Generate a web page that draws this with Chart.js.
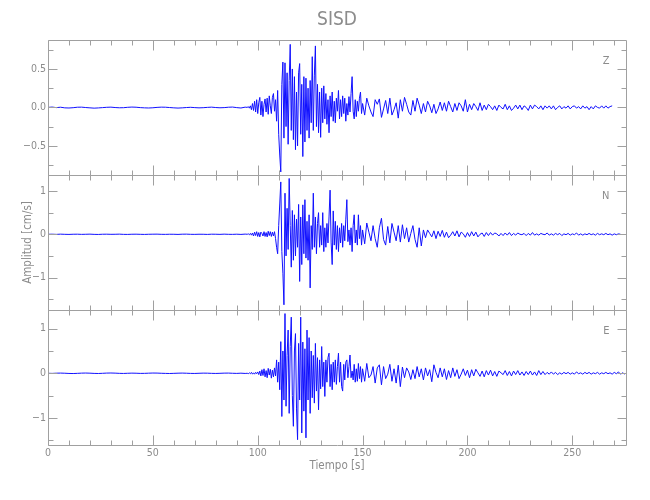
<!DOCTYPE html>
<html lang="es">
<head>
<meta charset="utf-8">
<title>SISD</title>
<script src="https://cdn.jsdelivr.net/npm/chart.js@4.4.1/dist/chart.umd.min.js"></script>
<style>
  html, body { margin: 0; padding: 0; background: #fff; }
  #wrap { width: 650px; height: 500px; }
</style>
</head>
<body>
<div id="wrap"><canvas id="chart" width="650" height="500"></canvas></div>
<script>
// ============================================================
// Data: velocity (cm/s), station SISD
// ============================================================
const channels = ["Z", "N", "E"];

// pre-event noise every 2 s from 0 s, strong motion every 0.5 s from 95 s, coda every 1 s from 150 s
const PRE_START = 0, PRE_STEP = 2;
const MAIN_START = 95, MAIN_STEP = 0.5;
const CODA_START = 150, CODA_STEP = 1;

const zPre = [
  0.000, 0.004, -0.003, 0.002, -0.006, -0.008, -0.004, 0.002, 0.003, -0.002,
  -0.006, -0.010, -0.007, -0.003, 0.001, 0.003, -0.002, -0.005, -0.004, 0.001,
  0.004, 0.002, -0.003, -0.006, -0.008, -0.005, 0.000, 0.003, 0.002, -0.002,
  -0.006, -0.009, -0.006, -0.002, 0.001, -0.003, -0.006, -0.004, 0.000, 0.003,
  -0.002, -0.005, -0.003, 0.002, 0.004, -0.003, -0.008, 0.003,
];
const zMain = [
  0.00, 0.01, -0.01, 0.02, -0.03, 0.05, -0.04, 0.08, -0.06, 0.10,
  -0.08, 0.06, 0.13, -0.10, 0.08, -0.12, 0.04, 0.11, -0.06, 0.12,
  -0.09, 0.15, 0.02, -0.08, 0.13, 0.18, -0.05, 0.10, -0.18, 0.22,
  -0.35, -0.62, -0.84, 0.30, 0.59, -0.40, 0.58, -0.25, 0.45, -0.48,
  0.35, 0.82, -0.30, 0.50, -0.42, 0.40, -0.55, 0.20, -0.50, 0.45,
  0.57, -0.35, 0.30, -0.64, 0.40, -0.45, 0.38, -0.30, 0.25, -0.40,
  0.35, -0.20, 0.66, -0.30, 0.42, 0.80, -0.25, 0.30, -0.33, 0.20,
  -0.39, 0.25, -0.20, 0.28, -0.15, 0.18, -0.22, 0.10, -0.33, 0.15,
  -0.12, 0.20, -0.18, 0.08, -0.20, 0.12, -0.05, 0.22, -0.15, 0.10,
  -0.12, 0.15, -0.08, 0.12, -0.18, 0.05, -0.10, 0.14, -0.06, 0.18,
  0.40, -0.05, -0.15, 0.10, -0.12, 0.08, -0.05, 0.12, 0.20, -0.08,
];
const zCoda = [
  0.05, -0.10, 0.12, 0.02, -0.06, -0.12, 0.10, 0.04, 0.11, -0.13,
  -0.02, 0.09, -0.08, 0.12, -0.10, -0.03, 0.06, -0.14, 0.10, -0.05,
  0.13, 0.04, -0.06, -0.10, 0.09, -0.05, 0.12, 0.03, -0.08, 0.05,
  -0.06, 0.08, 0.02, -0.07, 0.04, -0.08, -0.02, 0.07, -0.04, 0.06,
  -0.05, 0.08, 0.01, -0.06, 0.05, -0.04, 0.06, 0.02, -0.05, 0.10,
  -0.06, 0.04, -0.03, 0.05, 0.01, -0.04, 0.06, -0.04, 0.03, -0.03,
  0.04, 0.01, -0.03, 0.02, -0.04, 0.03, 0.00, -0.02, 0.04, -0.03,
  0.02, -0.04, -0.01, 0.03, -0.02, 0.03, -0.03, 0.02, 0.00, -0.04,
  0.03, -0.02, 0.03, 0.01, -0.02, 0.02, -0.03, 0.02, -0.01, 0.02,
  -0.02, 0.02, -0.03, 0.00, 0.02, -0.02, 0.01, -0.01, 0.02, -0.02,
  0.01, 0.02, -0.01, 0.01, -0.02, 0.02, -0.01, 0.01, -0.03, 0.01,
  -0.02, 0.02, 0.00, -0.01, 0.02, -0.01, 0.02, -0.01, 0.01, 0.02,
];

const nPre = [
  0.000, 0.002, -0.002, 0.003, -0.001, -0.003, 0.001, 0.002, -0.002, 0.000,
  0.003, -0.002, -0.004, 0.001, 0.002, -0.001, 0.000, 0.003, -0.002, -0.003,
  0.001, 0.002, -0.001, -0.003, 0.000, 0.002, 0.003, -0.001, -0.002, 0.001,
  0.000, -0.003, 0.002, 0.003, -0.001, -0.002, 0.001, 0.000, -0.003, 0.002,
  0.001, -0.002, 0.003, -0.001, -0.002, 0.002, -0.003, 0.004,
];
const nMain = [
  0.00, 0.01, -0.01, 0.02, -0.02, 0.03, -0.04, 0.05, -0.03, 0.06,
  -0.05, 0.04, -0.06, 0.05, 0.02, -0.04, 0.06, -0.05, 0.04, -0.06,
  0.07, -0.03, 0.06, -0.05, 0.05, -0.04, 0.06, -0.10, -0.30, -0.45,
  0.20, 0.70, 1.21, -0.40, -0.90, -1.63, 0.95, -0.50, 0.60, -0.35,
  1.29, 0.20, -0.76, 0.55, -0.60, 0.45, -0.50, 0.35, -0.30, 0.69,
  -1.09, 0.40, -0.70, 0.68, -0.45, 0.80, -0.55, 0.30, -0.60, 0.45,
  -1.24, 0.20, -0.35, 0.95, -0.30, 0.40, -0.45, 0.25, 0.50, -0.30,
  0.20, -0.25, 0.50, -0.40, 0.15, -0.30, 0.25, -0.20, 0.40, 1.02,
  -0.20, -0.70, 0.54, -0.25, 0.30, -0.35, 0.20, -0.40, 0.15, -0.20,
  0.25, -0.30, 0.20, -0.15, 0.35, 0.80, -0.17, 0.10, -0.25, 0.15,
  -0.40, 0.20, 0.45, -0.20, 0.10, -0.25, 0.45, -0.10, 0.20, -0.25,
];
const nCoda = [
  0.10, -0.22, 0.26, 0.05, -0.15, 0.20, -0.10, -0.30, 0.15, 0.37,
  -0.12, -0.25, 0.18, -0.20, 0.25, 0.05, -0.15, 0.20, -0.18, 0.22,
  -0.10, 0.15, -0.18, 0.02, 0.20, -0.12, -0.30, 0.15, -0.27, 0.10,
  -0.08, 0.10, 0.02, -0.06, 0.08, -0.10, 0.07, -0.05, 0.09, -0.07,
  0.05, -0.08, -0.02, 0.06, -0.04, 0.08, -0.06, 0.05, 0.01, -0.07,
  0.04, -0.05, 0.06, -0.04, 0.05, -0.06, 0.00, 0.03, -0.05, 0.04,
  -0.03, 0.04, -0.02, 0.03, 0.01, -0.04, 0.02, -0.03, 0.03, -0.02,
  0.04, -0.03, 0.02, -0.02, 0.03, 0.00, -0.01, 0.02, -0.03, 0.02,
  -0.02, 0.04, -0.02, 0.01, -0.02, 0.02, 0.00, -0.01, 0.03, -0.02,
  0.01, -0.02, 0.02, -0.01, 0.02, -0.03, 0.01, -0.01, 0.02, -0.02,
  0.01, -0.01, 0.03, -0.02, 0.01, -0.02, 0.01, -0.01, 0.02, -0.01,
  0.01, -0.02, 0.02, -0.01, 0.01, -0.01, 0.02, -0.01, 0.01, -0.02,
  0.01, -0.01, 0.01, 0.00,
];

const ePre = [
  0.000, -0.003, 0.002, 0.004, 0.001, -0.004, -0.006, -0.002, 0.003, 0.005,
  0.002, -0.003, -0.005, -0.001, 0.004, 0.006, 0.003, -0.002, -0.004, 0.000,
  0.003, 0.001, -0.003, -0.002, 0.002, 0.005, 0.004, 0.000, -0.003, -0.005,
  -0.002, 0.002, 0.004, 0.001, -0.003, -0.004, 0.000, 0.003, 0.002, -0.002,
  -0.004, -0.001, 0.003, 0.004, 0.000, -0.003, 0.002, -0.004,
];
const eMain = [
  0.00, -0.01, 0.01, -0.01, 0.02, -0.02, 0.01, -0.02, 0.02, -0.01,
  0.03, -0.03, 0.05, -0.06, 0.08, -0.05, 0.10, -0.08, 0.06, -0.10,
  0.11, -0.04, 0.09, -0.11, 0.07, -0.08, 0.12, -0.06, 0.30, -0.20,
  0.25, -0.37, 0.71, -0.97, 0.50, -0.60, 1.34, -0.74, 0.40, 0.97,
  -0.90, 0.60, 1.26, -0.50, -1.19, 0.50, 0.89, -0.80, -1.49, 0.67,
  -0.60, 1.26, -1.34, 0.70, -0.85, 0.55, -1.45, 0.97, -0.60, 0.80,
  -0.90, 0.50, -0.55, 0.40, -0.67, 0.67, -0.40, 0.35, -0.82, 0.30,
  -0.35, 0.60, -0.30, 0.25, -0.52, 0.30, -0.20, 0.35, 0.45, -0.30,
  0.20, -0.37, 0.25, -0.20, 0.30, -0.25, 0.15, 0.45, -0.20, 0.25,
  -0.30, -0.40, 0.20, -0.15, 0.25, 0.30, -0.10, 0.15, 0.41, -0.10,
  0.05, -0.15, 0.20, -0.20, 0.10, -0.18, 0.22, -0.12, 0.15, -0.20,
];
const eCoda = [
  0.10, -0.18, 0.22, -0.10, -0.04, 0.15, -0.22, 0.12, 0.19, -0.26,
  0.15, -0.12, -0.02, 0.20, -0.18, 0.10, -0.22, 0.18, -0.30, 0.14,
  -0.10, 0.12, 0.03, -0.14, 0.08, -0.12, 0.15, -0.08, 0.10, -0.15,
  0.12, -0.06, 0.08, -0.19, 0.19, 0.02, -0.10, 0.12, -0.08, 0.10,
  -0.14, 0.06, -0.10, 0.12, -0.07, 0.08, -0.12, -0.02, 0.10, -0.05,
  0.07, -0.10, 0.08, -0.06, 0.09, 0.01, -0.07, 0.05, -0.08, 0.06,
  -0.04, 0.07, -0.06, 0.04, -0.07, 0.05, 0.01, -0.03, 0.06, -0.05,
  0.04, -0.06, 0.05, -0.03, 0.06, -0.04, 0.03, -0.05, 0.04, -0.03,
  0.05, -0.04, 0.03, -0.05, 0.06, -0.03, 0.04, -0.03, 0.02, -0.02,
  0.03, -0.02, 0.02, -0.03, 0.01, -0.02, 0.02, -0.01, 0.02, -0.02,
  0.01, -0.02, 0.03, -0.01, 0.01, -0.02, 0.02, -0.01, 0.02, -0.02,
  0.01, -0.01, 0.02, -0.02, 0.01, -0.01, 0.02, -0.01, 0.01, -0.02,
  0.02, -0.01, 0.03, -0.02, 0.01, -0.02,
];

// axis limits and ticks
const timeRange = [0, 275.6];
const timeTicks = [0, 50, 100, 150, 200, 250];
const timeMinor = [10, 20, 30, 40, 60, 70, 80, 90, 110, 120, 130, 140,
  160, 170, 180, 190, 210, 220, 230, 240, 260, 270];

const zRange = [-0.88, 0.877];
const zTicks = [-0.5, 0, 0.5];
const zMinor = [-0.75, -0.25, 0.25, 0.75];

const nRange = [-1.75, 1.37];
const nTicks = [-1, 0, 1];
const nMinor = [-1.5, -0.5, 0.5];

const eRange = [-1.61, 1.42];
const eTicks = [-1, 0, 1];
const eMinor = [-1.5, -0.5, 0.5];

// ============================================================
// Styles
// ============================================================
const TEXT = "#8c8c8c";
const AXIS = "#a0a0a0";
const TRACE = "#1010ff";
const FONT = '"DejaVu Sans Condensed", "Liberation Sans Narrow", "DejaVu Sans", sans-serif';

// ============================================================
// Helpers
// ============================================================
function toPoints(pre, main, coda) {
  const pts = [];
  pre.forEach((v, i) => pts.push({ x: PRE_START + i * PRE_STEP, y: v }));
  main.forEach((v, i) => pts.push({ x: MAIN_START + i * MAIN_STEP, y: v }));
  coda.forEach((v, i) => pts.push({ x: CODA_START + i * CODA_STEP, y: v }));
  return pts;
}

const minus = (v, digits) => (v < 0 ? "\u2212" : "") + Math.abs(v).toFixed(digits);

function yAxis(range, ticks, digits, title) {
  return {
    type: "linear",
    position: "left",
    stack: "seis",
    stackWeight: 1,
    min: range[0],
    max: range[1],
    afterBuildTicks: (s) => { s.ticks = ticks.map((v) => ({ value: v })); },
    afterFit: (s) => { s.width = 48; },
    grid: { display: false, drawTicks: false },
    border: { display: false },
    ticks: {
      color: TEXT,
      padding: 2,
      font: { family: FONT, size: 10.5 },
      callback: (v) => minus(v, digits),
    },
    title: title
      ? { display: true, text: title, color: TEXT, font: { family: FONT, size: 11.5 }, padding: { top: 21, bottom: 0 } }
      : { display: false },
  };
}

const panels = [
  { name: channels[0], axis: "yZ", major: zTicks, minor: zMinor },
  { name: channels[1], axis: "yN", major: nTicks, minor: nMinor },
  { name: channels[2], axis: "yE", major: eTicks, minor: eMinor },
];

// frame + inward tick marks for each panel, IDL style
const panelFrame = {
  id: "panelFrame",
  afterDatasetsDraw(chart) {
    const { ctx, chartArea: a, scales } = chart;
    const xs = scales.x;
    const L = Math.round(a.left) + 0.5;
    const R = Math.round(a.right) + 0.5;
    ctx.save();
    ctx.strokeStyle = AXIS;
    ctx.lineWidth = 1;
    ctx.beginPath();
    panels.forEach((p) => {
      const ys = scales[p.axis];
      const top = Math.round(ys.top) + 0.5;
      const bot = Math.round(ys.bottom) + 0.5;
      ctx.rect(L, top, R - L, bot - top);
      const xTick = (v, len) => {
        const px = Math.round(xs.getPixelForValue(v)) + 0.5;
        ctx.moveTo(px, top); ctx.lineTo(px, top + len);
        ctx.moveTo(px, bot); ctx.lineTo(px, bot - len);
      };
      const yTick = (v, len) => {
        const py = Math.round(ys.getPixelForValue(v)) + 0.5;
        ctx.moveTo(L, py); ctx.lineTo(L + len, py);
        ctx.moveTo(R, py); ctx.lineTo(R - len, py);
      };
      timeTicks.forEach((v) => xTick(v, 10));
      timeMinor.forEach((v) => xTick(v, 5));
      p.major.forEach((v) => yTick(v, 9));
      p.minor.forEach((v) => yTick(v, 5));
    });
    ctx.stroke();

    ctx.fillStyle = TEXT;
    ctx.font = `11px ${FONT}`;
    ctx.textAlign = "right";
    ctx.textBaseline = "middle";
    panels.forEach((p) => {
      ctx.fillText(p.name, R - 17, scales[p.axis].top + 21);
    });
    ctx.restore();
  },
};

// ============================================================
// Chart
// ============================================================
const series = [toPoints(zPre, zMain, zCoda), toPoints(nPre, nMain, nCoda), toPoints(ePre, eMain, eCoda)];

new Chart(document.getElementById("chart"), {
  type: "line",
  data: {
    datasets: channels.map((c, i) => ({
      label: c,
      data: series[i],
      xAxisID: "x",
      yAxisID: "y" + c,
      borderColor: TRACE,
      borderWidth: 1,
      pointRadius: 0,
      tension: 0,
      fill: false,
    })),
  },
  options: {
    responsive: false,
    animation: false,
    devicePixelRatio: 1,
    events: [],
    layout: { padding: { left: 0, right: 24, top: 0, bottom: 15 } },
    plugins: {
      legend: { display: false },
      tooltip: { enabled: false },
      title: {
        display: true,
        text: "SISD",
        fullSize: false,
        color: TEXT,
        font: { family: FONT, size: 19, weight: "normal" },
        padding: { top: 9, bottom: 8.2 },
      },
    },
    // stacked y axes: the last one listed sits on top
    scales: {
      x: {
        type: "linear",
        min: timeRange[0],
        max: timeRange[1],
        afterBuildTicks: (s) => { s.ticks = timeTicks.map((v) => ({ value: v })); },
        afterFit: (s) => { s.height = 40; },
        grid: { display: false, drawTicks: false },
        border: { display: false },
        ticks: { color: TEXT, padding: 2, maxRotation: 0, font: { family: FONT, size: 10.5 } },
        title: {
          display: true,
          text: "Tiempo [s]",
          color: TEXT,
          font: { family: FONT, size: 11.5 },
          padding: { top: 0, bottom: 12 },
        },
      },
      yE: yAxis(eRange, eTicks, 0, null),
      yN: yAxis(nRange, nTicks, 0, "Amplitud [cm/s]"),
      yZ: yAxis(zRange, zTicks, 1, null),
    },
  },
  plugins: [panelFrame],
});
</script>
</body>
</html>
